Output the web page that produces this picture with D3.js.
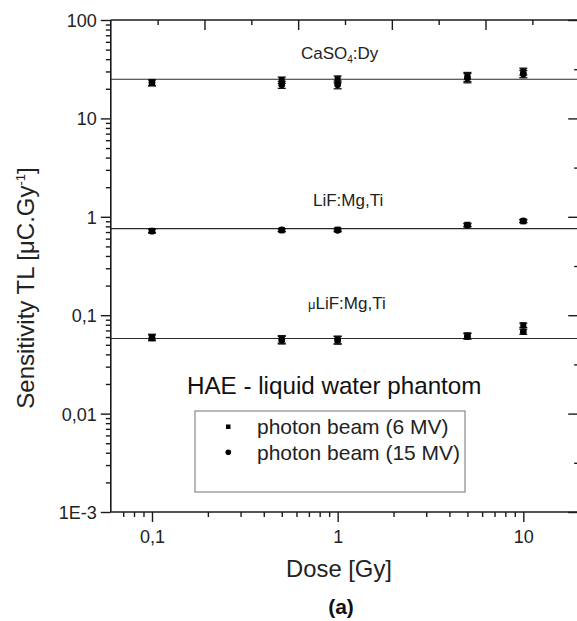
<!DOCTYPE html>
<html>
<head>
<meta charset="utf-8">
<script src="https://cdn.jsdelivr.net/npm/d3@7"></script>
<style>
  html, body { margin: 0; padding: 0; background: #fff; }
  svg { display: block; font-family: "Liberation Sans", Arial, Helvetica, sans-serif; }
</style>
</head>
<body>
<svg id="chart" width="577" height="621"></svg>
<script>
// ---------- data ----------
const doses = [0.1, 0.5, 1, 5, 10];

const caso4_6MV  = [23.0, 24.5, 25.0, 26.5, 30.0];
const caso4_15MV = [23.2, 22.0, 22.0, 25.8, 28.3];
const caso4_err  = [1.6, 1.8, 2.0, 2.8, 2.4];
const caso4_fit  = 25.0;

const lif_6MV  = [0.72, 0.73, 0.74, 0.83, 0.90];
const lif_15MV = [0.715, 0.735, 0.73, 0.82, 0.91];
const lif_err  = [0.03, 0.025, 0.025, 0.03, 0.03];
const lif_fit  = 0.76;

const ulif_6MV  = [0.060, 0.057, 0.056, 0.062, 0.079];
const ulif_15MV = [0.059, 0.056, 0.056, 0.061, 0.068];
const ulif_err  = [0.004, 0.005, 0.005, 0.004, 0.004];
const ulif_fit  = 0.058;

const yTickValues = [1e-3, 1e-2, 1e-1, 1, 10, 100];
const yTickLabels = ["1E-3", "0,01", "0,1", "1", "10", "100"];
const xTickValues = [0.1, 1, 10];
const xTickLabels = ["0,1", "1", "10"];

const legendLabels = ["photon beam (6 MV)", "photon beam (15 MV)"];

// ---------- layout ----------
const svg = d3.select("#chart");
const X0 = 110.8, X1 = 579.2, Y0 = 512, Y1 = 20;

const x = d3.scaleLog().domain([0.06, 20]).range([X0, X1]);
const y = d3.scaleLog().domain([1e-3, 100]).range([Y0, Y1]);
const xTop = d3.scaleLinear().domain([0, 10]).range([X0, X1]);

const axisColor = "#1a1a1a";

function styleAxis(g) {
  g.select(".domain").remove();
  g.selectAll(".tick line").attr("stroke", axisColor).attr("stroke-width", 1.4);
  g.selectAll(".tick text").attr("fill", "#222").style("font-size", "18px")
    .style("font-family", '"Liberation Sans", Arial, sans-serif');
}

// minor tick values
const yMinor = [];
for (let e = -3; e < 2; e++) for (let m = 2; m <= 9; m++) yMinor.push(m * Math.pow(10, e));
const xMinor = [0.07, 0.08, 0.09];
for (let e = -1; e < 1; e++) for (let m = 2; m <= 9; m++) xMinor.push(m * Math.pow(10, e));
xMinor.push(20);
const yRightMinor = [];
for (let e = -3; e < 2; e++) yRightMinor.push(Math.sqrt(10) * Math.pow(10, e));

// left axis
svg.append("g").attr("transform", `translate(${X0},0)`)
  .call(d3.axisLeft(y).tickValues(yMinor).tickSize(5).tickFormat(""))
  .call(styleAxis);
svg.append("g").attr("transform", `translate(${X0},0)`)
  .call(d3.axisLeft(y).tickValues(yTickValues).tickSize(10).tickPadding(4)
    .tickFormat((d, i) => yTickLabels[i]))
  .call(styleAxis)
  .call(g => g.selectAll(".tick text").attr("dy", "0.36em"));

// bottom axis
svg.append("g").attr("transform", `translate(0,${Y0})`)
  .call(d3.axisBottom(x).tickValues(xMinor).tickSize(5).tickFormat(""))
  .call(styleAxis);
svg.append("g").attr("transform", `translate(0,${Y0})`)
  .call(d3.axisBottom(x).tickValues(xTickValues).tickSize(10).tickPadding(8)
    .tickFormat((d, i) => xTickLabels[i]))
  .call(styleAxis);

// top axis (inward ticks)
svg.append("g").attr("transform", `translate(0,${Y1})`)
  .call(d3.axisTop(xTop).tickValues(d3.range(1, 10, 2)).tickSize(-5).tickFormat(""))
  .call(styleAxis);
svg.append("g").attr("transform", `translate(0,${Y1})`)
  .call(d3.axisTop(xTop).tickValues(d3.range(2, 10, 2)).tickSize(-10).tickFormat(""))
  .call(styleAxis);

// right axis (inward ticks)
svg.append("g").attr("transform", `translate(${X1},0)`)
  .call(d3.axisRight(y).tickValues(yRightMinor).tickSize(-5).tickFormat(""))
  .call(styleAxis);
svg.append("g").attr("transform", `translate(${X1},0)`)
  .call(d3.axisRight(y).tickValues(yTickValues).tickSize(-11).tickFormat(""))
  .call(styleAxis);

// frame lines
svg.append("line").attr("x1", X0).attr("x2", X1).attr("y1", Y1).attr("y2", Y1)
  .attr("stroke", axisColor).attr("stroke-width", 1.6);
svg.append("line").attr("x1", X0).attr("x2", X1).attr("y1", Y0).attr("y2", Y0)
  .attr("stroke", axisColor).attr("stroke-width", 1.6);
svg.append("line").attr("x1", X0).attr("x2", X0).attr("y1", Y1).attr("y2", Y0)
  .attr("stroke", axisColor).attr("stroke-width", 1.6);
svg.append("line").attr("x1", X1).attr("x2", X1).attr("y1", Y1).attr("y2", Y0)
  .attr("stroke", axisColor).attr("stroke-width", 1.6);

// fit lines
[caso4_fit, lif_fit, ulif_fit].forEach(v => {
  svg.append("line").attr("x1", X0).attr("x2", X1)
    .attr("y1", y(v)).attr("y2", y(v))
    .attr("stroke", "#2a2a2a").attr("stroke-width", 1.2);
});

// data
const groups = [
  { s6: caso4_6MV, s15: caso4_15MV, err: caso4_err },
  { s6: lif_6MV, s15: lif_15MV, err: lif_err },
  { s6: ulif_6MV, s15: ulif_15MV, err: ulif_err }
];
const capW = 4;
const gData = svg.append("g");
groups.forEach(gr => {
  [gr.s6, gr.s15].forEach((vals, si) => {
    vals.forEach((v, i) => {
      const cx = x(doses[i]);
      const yl = y(v - gr.err[i]), yh = y(v + gr.err[i]);
      gData.append("line").attr("x1", cx).attr("x2", cx).attr("y1", yl).attr("y2", yh)
        .attr("stroke", "#111").attr("stroke-width", 1.3);
      gData.append("line").attr("x1", cx - capW).attr("x2", cx + capW).attr("y1", yl).attr("y2", yl)
        .attr("stroke", "#111").attr("stroke-width", 1.3);
      gData.append("line").attr("x1", cx - capW).attr("x2", cx + capW).attr("y1", yh).attr("y2", yh)
        .attr("stroke", "#111").attr("stroke-width", 1.3);
      if (si === 0) {
        gData.append("rect").attr("x", cx - 3).attr("y", y(v) - 3).attr("width", 6).attr("height", 6)
          .attr("fill", "#000");
      } else {
        gData.append("circle").attr("cx", cx).attr("cy", y(v)).attr("r", 3.4).attr("fill", "#000");
      }
    });
  });
});

// material labels
const lab = svg.append("g").attr("fill", "#222").style("font-size", "17px");
const t1 = lab.append("text").attr("x", 301).attr("y", 59);
t1.append("tspan").text("CaSO");
t1.append("tspan").attr("dy", 4).style("font-size", "10px").text("4");
t1.append("tspan").attr("dy", -4).text(":Dy");
lab.append("text").attr("x", 313).attr("y", 206).text("LiF:Mg,Ti");
const t3 = lab.append("text").attr("x", 308).attr("y", 309);
t3.append("tspan").style("font-size", "13px").text("\u03bc");
t3.append("tspan").text("LiF:Mg,Ti");

// HAE title
svg.append("text").attr("x", 187).attr("y", 394).attr("fill", "#111")
  .style("font-size", "24.2px").text("HAE - liquid water phantom");

// legend
svg.append("rect").attr("x", 195).attr("y", 411).attr("width", 270).attr("height", 81)
  .attr("fill", "none").attr("stroke", "#8a8a8a").attr("stroke-width", 1.2);
svg.append("rect").attr("x", 226).attr("y", 424.5).attr("width", 4.5).attr("height", 4.5).attr("fill", "#000");
svg.append("circle").attr("cx", 228.3).attr("cy", 452.3).attr("r", 2.8).attr("fill", "#000");
legendLabels.forEach((t, i) => {
  svg.append("text").attr("x", 257).attr("y", 434 + i * 26).attr("fill", "#222")
    .style("font-size", "21px").text(t);
});

// axis titles
svg.append("text").attr("x", 339).attr("y", 577).attr("text-anchor", "middle").attr("fill", "#222")
  .style("font-size", "23.8px").text("Dose [Gy]");
const yl = svg.append("text").attr("transform", "translate(34,288) rotate(-90)")
  .attr("text-anchor", "middle").attr("fill", "#222").style("font-size", "24px");
yl.append("tspan").text("Sensitivity TL [\u03bcC.Gy");
yl.append("tspan").attr("dy", -9).style("font-size", "13px").text("-1");
yl.append("tspan").attr("dy", 9).text("]");

// panel label
svg.append("text").attr("x", 341).attr("y", 614).attr("text-anchor", "middle").attr("fill", "#111")
  .style("font-size", "21px").style("font-weight", "bold").text("(a)");
</script>
</body>
</html>
